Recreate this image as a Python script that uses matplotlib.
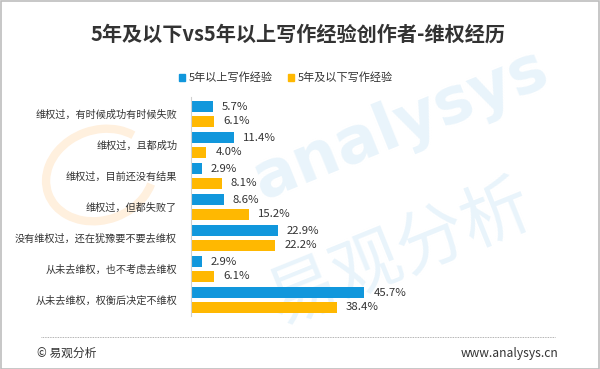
import matplotlib.pyplot as plt
from matplotlib.patches import Patch, Arc
from matplotlib.lines import Line2D
import numpy as np

plt.rcParams['font.family'] = ['Noto Sans CJK SC', 'DejaVu Sans']

TITLE = "5年及以下vs5年以上写作经验创作者-维权经历"
CATEGORIES = [
    "维权过，有时候成功有时候失败",
    "维权过，且都成功",
    "维权过，目前还没有结果",
    "维权过，但都失败了",
    "没有维权过，还在犹豫要不要去维权",
    "从未去维权，也不考虑去维权",
    "从未去维权，权衡后决定不维权",
]
SERIES_NAMES = ["5年以上写作经验", "5年及以下写作经验"]
OVER5 = [5.7, 11.4, 2.9, 8.6, 22.9, 2.9, 45.7]
UNDER5 = [6.1, 4.0, 8.1, 15.2, 22.2, 6.1, 38.4]

BLUE = "#1197DC"
ORANGE = "#FFB801"
TEXT = "#333333"

W, H = 600, 369
fig = plt.figure(figsize=(6, 3.69), dpi=100)

# background layer for the faint watermark (kept behind the chart)
bg = fig.add_axes([0, 0, 1, 1], zorder=-1)
bg.set_axis_off()
bg.set_xlim(0, W)
bg.set_ylim(H, 0)
bg.text(400, 125, "analysys", fontsize=46, color="#e9f4fb", rotation=22,
        ha="center", va="center", fontweight="bold", family="DejaVu Sans")
bg.text(400, 255, "易观分析", fontsize=50, color="#e9f4fb", rotation=22,
        ha="center", va="center")
# orange ring of the logo
bg.add_patch(Arc((100, 175), 110, 90, angle=-20, theta1=30, theta2=330,
                 color="#fff0de", linewidth=6))

# light frame round the picture
fig.add_artist(plt.Rectangle((0.5 / W, 0.5 / H), 1 - 1.5 / W, 1 - 1.5 / H,
                             transform=fig.transFigure, fill=False,
                             edgecolor="#bdbdbd", linewidth=1.2))

# axes placed by pixel
left, right_px = 191, 191 + 50 * 3.79
top_px, bot_px = 97, 316
ax = fig.add_axes([left / W, 1 - bot_px / H, (right_px - left) / W, (bot_px - top_px) / H])
ax.patch.set_alpha(0)

y = np.arange(len(CATEGORIES))
h = 0.36
off = 0.23
ax.barh(y - off, OVER5, height=h, color=BLUE)
ax.barh(y + off, UNDER5, height=h, color=ORANGE)

for yi, v in zip(y, OVER5):
    ax.text(v + 2.4, yi - off, f"{v:.1f}%", va="center", ha="left",
            fontsize=8.2, color=TEXT)
for yi, v in zip(y, UNDER5):
    ax.text(v + 2.4, yi + off, f"{v:.1f}%", va="center", ha="left",
            fontsize=8.2, color=TEXT)

ax.set_xlim(0, 50)
ax.set_ylim(6 + 16 / 31, -17 / 31)
ax.set_yticks(y)
ax.set_yticklabels(CATEGORIES, fontsize=7.3, color=TEXT)
ax.tick_params(axis="y", length=0, pad=10)
ax.set_xticks([])
for s in ["top", "right", "bottom"]:
    ax.spines[s].set_visible(False)
ax.spines["left"].set_color("#d0d0d0")
ax.spines["left"].set_linewidth(0.8)

fig.text(298 / W, 1 - 34 / H, TITLE, ha="center", va="center", fontsize=14.5,
         color=TEXT, fontweight="bold")

handles = [Patch(color=BLUE), Patch(color=ORANGE)]
fig.legend(handles, SERIES_NAMES, loc="center", bbox_to_anchor=(286 / W, 1 - 78 / H),
           ncol=2, frameon=False, fontsize=8, handlelength=0.55, handleheight=0.55,
           handletextpad=0.35, columnspacing=1.4, labelcolor=TEXT)

# footer
fig.add_artist(Line2D([41 / W, 555 / W], [1 - 337 / H, 1 - 337 / H],
                      transform=fig.transFigure, color="#999999",
                      linestyle=(0, (1, 1)), linewidth=0.6))
fig.text(37 / W, 1 - 353 / H, "© 易观分析", ha="left", va="center", fontsize=8.5, color=TEXT)
fig.text(558 / W, 1 - 353 / H, "www.analysys.cn", ha="right", va="center",
         fontsize=8.7, color=TEXT)

fig.savefig("out.png", dpi=100)
